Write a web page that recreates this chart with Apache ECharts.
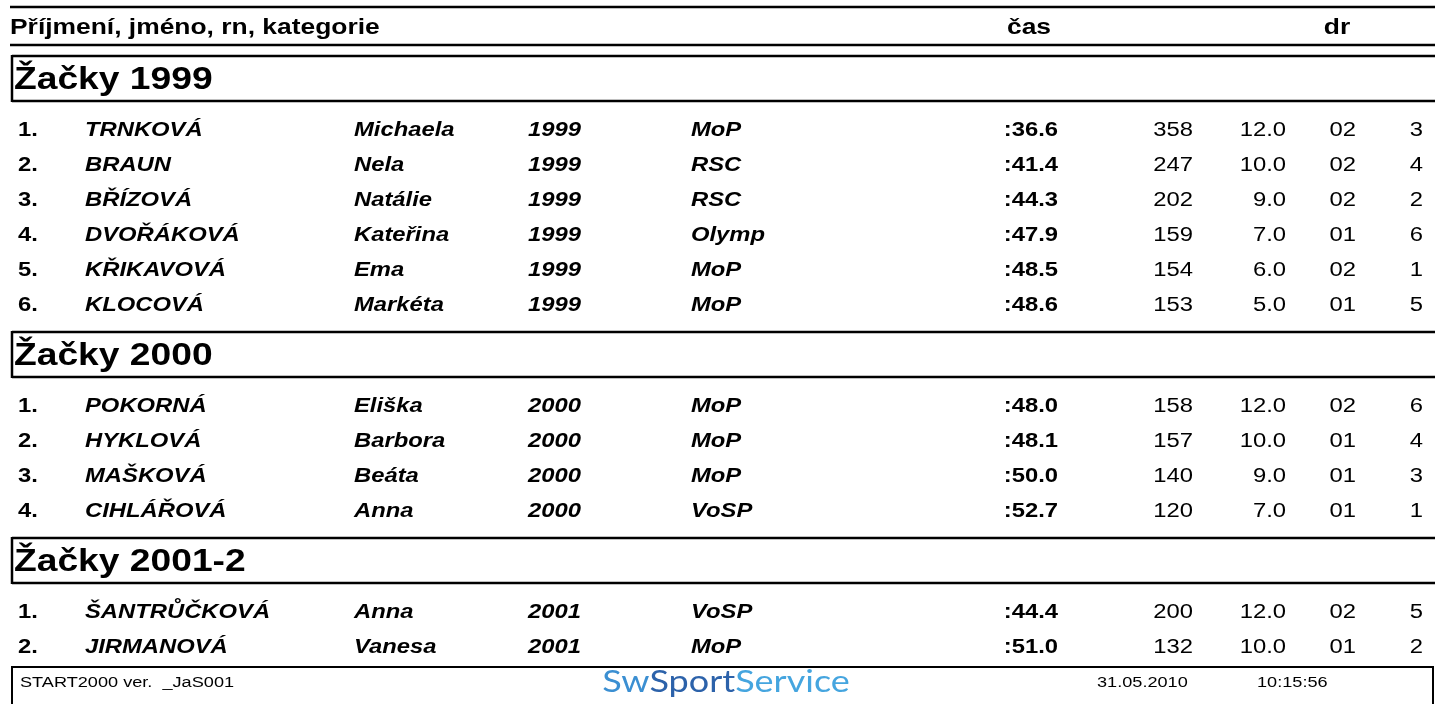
<!DOCTYPE html>
<html>
<head>
<meta charset="utf-8">
<script src="https://cdn.jsdelivr.net/npm/echarts@6/dist/echarts.min.js"></script>
<style>
  html, body { margin: 0; padding: 0; background: #fff; }
  #main { width: 1435px; height: 704px; }
</style>
</head>
<body>
<div id="main"></div>
<script>
// skupiny a výsledky
const groups = ["Žačky 1999", "Žačky 2000", "Žačky 2001-2"];
const groupOf = [0, 0, 0, 0, 0, 0, 1, 1, 1, 1, 2, 2];
const ranks = ["1.", "2.", "3.", "4.", "5.", "6.", "1.", "2.", "3.", "4.", "1.", "2."];
const surnames = ["TRNKOVÁ", "BRAUN", "BŘÍZOVÁ", "DVOŘÁKOVÁ", "KŘIKAVOVÁ", "KLOCOVÁ",
  "POKORNÁ", "HYKLOVÁ", "MAŠKOVÁ", "CIHLÁŘOVÁ", "ŠANTRŮČKOVÁ", "JIRMANOVÁ"];
const firstNames = ["Michaela", "Nela", "Natálie", "Kateřina", "Ema", "Markéta",
  "Eliška", "Barbora", "Beáta", "Anna", "Anna", "Vanesa"];
const years = ["1999", "1999", "1999", "1999", "1999", "1999", "2000", "2000", "2000", "2000", "2001", "2001"];
const clubs = ["MoP", "RSC", "RSC", "Olymp", "MoP", "MoP", "MoP", "MoP", "MoP", "VoSP", "VoSP", "MoP"];
const times = [":36.6", ":41.4", ":44.3", ":47.9", ":48.5", ":48.6", ":48.0", ":48.1", ":50.0", ":52.7", ":44.4", ":51.0"];
const points = [358, 247, 202, 159, 154, 153, 158, 157, 140, 120, 200, 132];
const scores = ["12.0", "10.0", "9.0", "7.0", "6.0", "5.0", "12.0", "10.0", "9.0", "7.0", "12.0", "10.0"];
const heats = ["02", "02", "02", "01", "02", "01", "02", "01", "01", "01", "02", "01"];
const lanes = [3, 4, 2, 6, 1, 5, 6, 4, 3, 1, 5, 2];

const headerTitle = "Příjmení, jméno, rn, kategorie";
const headerTime = "čas";
const headerDr = "dr";
const footerLeft = "START2000 ver.  _JaS001";
const footerDate = "31.05.2010";
const footerClock = "10:15:56";

// rozložení řádků (svislá pozice v px)
const W = 1435, H = 704;
const SX = 1.19; // obrázek je vodorovně roztažený
const FF = '"Liberation Sans", Arial, sans-serif';
const lines = [{ kind: "header", y: 28 }];
let y = 56;
let prevGroup = -1;
for (let i = 0; i < ranks.length; i++) {
  if (groupOf[i] !== prevGroup) {
    if (prevGroup >= 0) y += 27;
    lines.push({ kind: "group", g: groupOf[i], y: y });
    y += 45 + 29;
    prevGroup = groupOf[i];
  } else {
    y += 35;
  }
  lines.push({ kind: "row", i: i, y: y });
}
lines.push({ kind: "footer", y: y + 20 });

function renderItem(params, api) {
  const it = lines[params.dataIndex];
  const yv = api.value(1);
  const pt = (x, yy) => api.coord([x, yy]);
  const txt = (x, yy, s, font, align, color, sx) => {
    const p = pt(x, yy);
    return {
      type: "text", x: p[0], y: p[1], scaleX: sx || SX,
      style: {
        x: 0, y: 0, text: String(s), font: font, fill: color || "#000",
        align: align, textAlign: align, verticalAlign: "middle", textVerticalAlign: "middle"
      }
    };
  };
  const ln = (x1, y1, x2, y2, w) => {
    const a = pt(x1, y1), b = pt(x2, y2);
    return { type: "line", shape: { x1: a[0], y1: a[1], x2: b[0], y2: b[1] }, style: { stroke: "#000", lineWidth: w || 2 } };
  };
  const ch = [];
  if (it.kind === "header") {
    ch.push(ln(10, 7, W, 7, 2.5));
    ch.push(ln(10, 45, W, 45, 2.5));
    const f = "bold 22px " + FF;
    ch.push(txt(10, yv, headerTitle, f, "left", "#000", 1.2));
    ch.push(txt(1029, yv, headerTime, f, "center", "#000", 1.2));
    ch.push(txt(1337, yv, headerDr, f, "center", "#000", 1.2));
  } else if (it.kind === "group") {
    ch.push(ln(12, yv, W, yv, 2.5));
    ch.push(ln(12, yv + 45, W, yv + 45, 2.5));
    ch.push(ln(12, yv - 1, 12, yv + 46, 2.5));
    ch.push(txt(14, yv + 24, groups[it.g], "bold 31px " + FF, "left", "#000", 1.2));
  } else if (it.kind === "row") {
    const i = it.i;
    const bi = "italic bold 20px " + FF;
    const b = "bold 20px " + FF;
    const r = "20px " + FF;
    ch.push(txt(18, yv, ranks[i], b, "left"));
    ch.push(txt(85, yv, surnames[i], bi, "left"));
    ch.push(txt(354, yv, firstNames[i], bi, "left"));
    ch.push(txt(528, yv, years[i], bi, "left"));
    ch.push(txt(691, yv, clubs[i], bi, "left"));
    ch.push(txt(1058, yv, times[i], b, "right"));
    ch.push(txt(1193, yv, points[i], r, "right"));
    ch.push(txt(1286, yv, scores[i], r, "right"));
    ch.push(txt(1356, yv, heats[i], r, "right"));
    ch.push(txt(1423, yv, lanes[i], r, "right"));
  } else if (it.kind === "footer") {
    ch.push(ln(12, yv, 1433, yv, 2));
    ch.push(ln(12, yv - 1, 12, H + 5, 2));
    ch.push(ln(1433, yv - 1, 1433, H + 5, 2));
    const f = "15.5px " + FF;
    ch.push(txt(20, yv + 16, footerLeft, f, "left", "#000", 1.17));
    ch.push(txt(1097, yv + 16, footerDate, f, "left", "#000", 1.17));
    ch.push(txt(1257, yv + 16, footerClock, f, "left", "#000", 1.17));
    const p = pt(726, yv + 15);
    ch.push({
      type: "text", x: p[0], y: p[1], scaleX: 1.2,
      style: {
        x: 0, y: 0, text: "{a|Sw}{b|Sport}{c|Service}",
        align: "center", textAlign: "center", verticalAlign: "middle", textVerticalAlign: "middle",
        font: '30px Lato, "Open Sans", sans-serif',
        rich: {
          a: { fill: "#3b8fd2", font: '30px Lato, "Open Sans", sans-serif' },
          b: { fill: "#2c62aa", font: '30px Lato, "Open Sans", sans-serif' },
          c: { fill: "#45a5df", font: '30px Lato, "Open Sans", sans-serif' }
        }
      }
    });
  }
  return { type: "group", children: ch };
}

const chart = echarts.init(document.getElementById("main"), null, { renderer: "canvas" });
const option = {
  animation: false,
  backgroundColor: "#fff",
  grid: { left: 0, right: 0, top: 0, bottom: 0 },
  xAxis: { type: "value", min: 0, max: W, show: false },
  yAxis: { type: "value", min: 0, max: H, inverse: true, show: false },
  series: [{
    type: "custom",
    clip: false,
    renderItem: renderItem,
    data: lines.map(l => [0, l.y])
  }]
};
option && chart.setOption(option);
</script>
</body>
</html>
